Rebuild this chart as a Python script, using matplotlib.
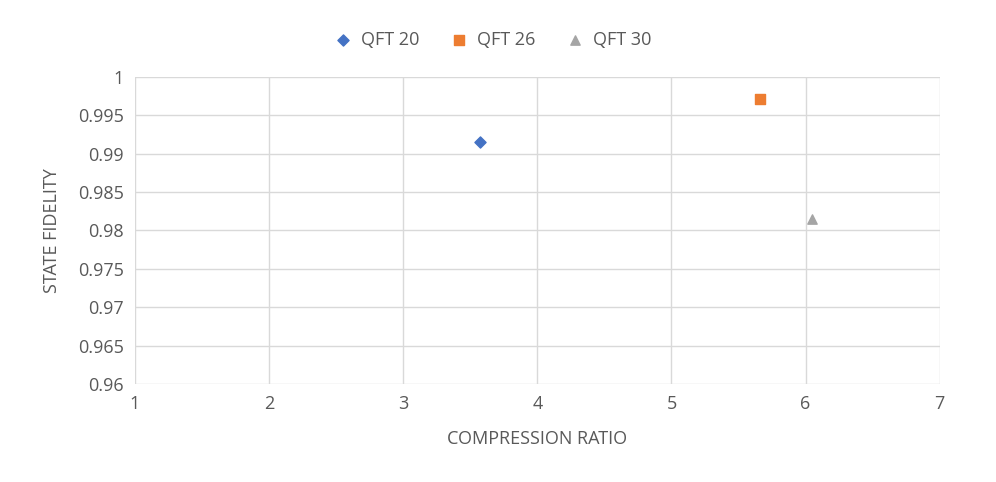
import matplotlib
matplotlib.use("Agg")
from matplotlib import pyplot as plt

labels = ["QFT 20", "QFT 26", "QFT 30"]
ratio = [3.57, 5.66, 6.05]
fidelity = [0.9915, 0.9971, 0.9815]
markers = ["D", "s", "^"]
colors = ["#4472C4", "#ED7D31", "#A5A5A5"]

plt.rcParams["font.family"] = "Open Sans"
fig = plt.figure(figsize=(9.96, 4.82), dpi=100)
ax = fig.add_axes([0.1355, 0.2033, 0.808, 0.637])

for lab, x, y, m, c in zip(labels, ratio, fidelity, markers, colors):
    ax.scatter([x], [y], marker=m, color=c, s=45 if m != "D" else 32, label=lab, zorder=3)

ax.set_xlim(1, 7)
ax.set_ylim(0.96, 1.0)
ax.set_xticks(range(1, 8))
ax.set_yticks([0.96, 0.965, 0.97, 0.975, 0.98, 0.985, 0.99, 0.995, 1.0])
ax.set_yticklabels(["0.96", "0.965", "0.97", "0.975", "0.98", "0.985", "0.99", "0.995", "1"])
ax.grid(True, color="#D9D9D9", linewidth=1)
for s in ax.spines.values():
    s.set_visible(False)
ax.tick_params(length=0, labelsize=13, colors="#595959", pad=8)
ax.set_xlabel("COMPRESSION RATIO", fontsize=13, color="#595959", labelpad=12)
ax.set_ylabel("STATE FIDELITY", fontsize=13, color="#595959", labelpad=12)

fig.legend(loc="upper center", bbox_to_anchor=(0.49, 0.97), ncol=3, frameon=False,
           fontsize=13, labelcolor="#595959", handletextpad=0.0, columnspacing=1.2)

fig.savefig("out.png")
